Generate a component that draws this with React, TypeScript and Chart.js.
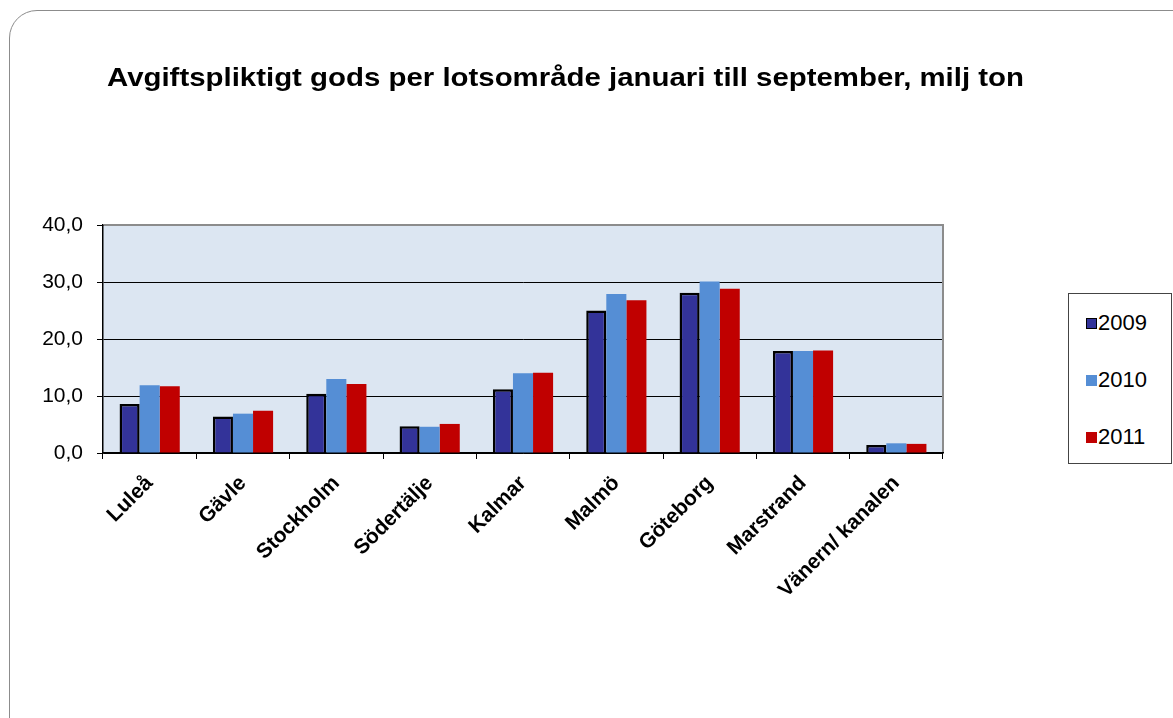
import React, { useEffect, useRef } from "react";
import { Chart, registerables } from "chart.js";

Chart.register(...registerables);

const categories = ["Luleå", "Gävle", "Stockholm", "Södertälje", "Kalmar", "Malmö", "Göteborg", "Marstrand", "Vänern/ kanalen"];
const values2009 = [8.6, 6.4, 10.4, 4.7, 11.2, 25.0, 28.1, 17.9, 1.4];
const values2010 = [11.9, 6.9, 13.0, 4.6, 14.0, 27.9, 30.1, 17.9, 1.7];
const values2011 = [11.7, 7.4, 12.1, 5.1, 14.1, 26.8, 28.8, 18.0, 1.6];
const seriesLabels = ["2009", "2010", "2011"];
const seriesColors = ["#333399", "#558ED5", "#C00000"];
const yTicks = [0, 10, 20, 30, 40];

const FONT = '"Liberation Sans", Arial, sans-serif';

const plotDecor = {
  id: "plotDecor",
  beforeDraw(chart: any) {
    const { ctx, chartArea } = chart;
    ctx.save();
    ctx.fillStyle = "#DCE6F2";
    ctx.fillRect(chartArea.left, chartArea.top, chartArea.right - chartArea.left, chartArea.bottom - chartArea.top);
    ctx.restore();
  },
  afterDraw(chart: any) {
    const { ctx, chartArea } = chart;
    ctx.save();
    ctx.strokeStyle = "#8C8C8C";
    ctx.lineWidth = 2;
    ctx.beginPath();
    ctx.moveTo(chartArea.left + 1, chartArea.top);
    ctx.lineTo(chartArea.right, chartArea.top);
    ctx.lineTo(chartArea.right, chartArea.bottom - 1);
    ctx.stroke();
    ctx.restore();
  },
};

export default function App() {
  const canvasRef = useRef<HTMLCanvasElement>(null);

  useEffect(() => {
    const chart = new Chart(canvasRef.current!, {
      type: "bar",
      data: {
        labels: categories,
        datasets: [
          { label: seriesLabels[0], data: values2009, backgroundColor: seriesColors[0], borderColor: "#000", borderWidth: 2.5, borderSkipped: "bottom" },
          { label: seriesLabels[1], data: values2010, backgroundColor: seriesColors[1], borderWidth: 0 },
          { label: seriesLabels[2], data: values2011, backgroundColor: seriesColors[2], borderWidth: 0 },
        ],
      },
      options: {
        responsive: false,
        animation: false,
        layout: { padding: { left: 0, right: 230, top: 225, bottom: 0 } },
        datasets: { bar: { categoryPercentage: 0.645, barPercentage: 1 } },
        plugins: { legend: { display: false }, title: { display: false }, tooltip: { enabled: false } },
        scales: {
          x: {
            afterFit: (s: any) => { s.height = 265; },
            grid: { drawOnChartArea: false, offset: true, tickLength: 6, color: "#000", tickColor: "#000" },
            border: { color: "#000", width: 1.5 },
            ticks: { maxRotation: 45, minRotation: 45, padding: 12, color: "#000", font: { family: FONT, size: 21, weight: "bold" } },
          },
          y: {
            min: 0,
            max: 40,
            afterFit: (s: any) => { s.width = 103; },
            afterBuildTicks: (s: any) => { s.ticks = yTicks.map((v) => ({ value: v })); },
            grid: { color: "#000", lineWidth: 1, tickLength: 6, tickColor: "#000" },
            border: { color: "#000", width: 1.5 },
            ticks: {
              padding: 14,
              color: "#000",
              font: { family: FONT, size: 21 },
              callback: (v: any) => Number(v).toFixed(1).replace(".", ","),
            },
          },
        },
      },
      plugins: [plotDecor],
    } as any);
    return () => chart.destroy();
  }, []);

  return (
    <div style={{ position: "fixed", left: 0, top: 0, width: 1173, height: 718, background: "#fff", overflow: "hidden", fontFamily: FONT }}>
      <div style={{ position: "absolute", left: 9, top: 10, width: 1200, height: 740, border: "1.5px solid #8C8C8C", borderRadius: 28, boxSizing: "border-box" }} />
      <canvas ref={canvasRef} width={1173} height={718} style={{ position: "absolute", left: 0, top: 0 }} />
      <div style={{ position: "absolute", left: 107, top: 61, fontSize: 25, fontWeight: "bold", color: "#000", whiteSpace: "nowrap", lineHeight: "32px", transform: "scaleX(1.176)", transformOrigin: "left center" }}>
        Avgiftspliktigt gods per lotsområde januari till september, milj ton
      </div>
      <div style={{ position: "absolute", left: 1068, top: 293, width: 104, height: 171, border: "1px solid #444", boxSizing: "border-box", background: "#fff" }}>
        {seriesLabels.map((l, i) => (
          <div key={l} style={{ position: "absolute", left: 17, top: 16 + i * 57, display: "flex", alignItems: "center", height: 26 }}>
            <span style={{ display: "inline-block", width: 11, height: 11, background: seriesColors[i], border: i === 0 ? "1.5px solid #000" : "none", boxSizing: "border-box", marginRight: 1 }} />
            <span style={{ fontSize: 22, color: "#000" }}>{l}</span>
          </div>
        ))}
      </div>
    </div>
  );
}
